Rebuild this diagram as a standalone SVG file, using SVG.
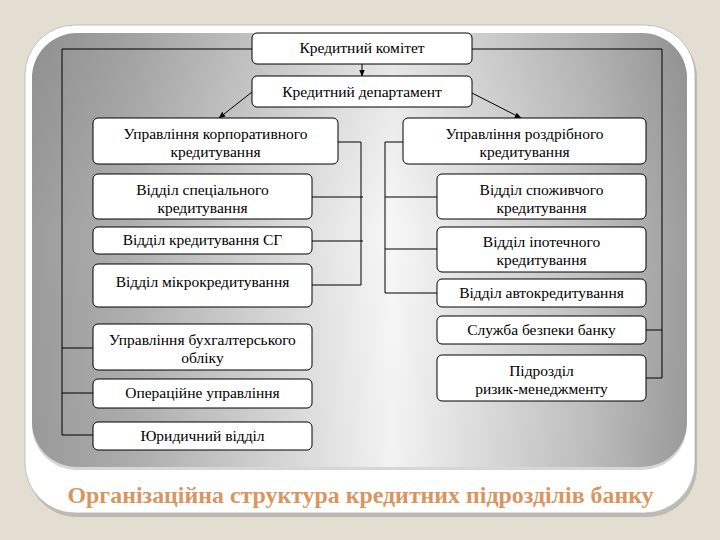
<svg xmlns="http://www.w3.org/2000/svg" width="720" height="540" viewBox="0 0 720 540">
  <defs>
    <linearGradient id="panelH" x1="0" y1="0" x2="1" y2="0">
      <stop offset="0" stop-color="#9c9c9c"/>
      <stop offset="0.15" stop-color="#afafaf"/>
      <stop offset="0.55" stop-color="#f7f7f7"/>
      <stop offset="0.85" stop-color="#c0c0c0"/>
      <stop offset="1" stop-color="#9d9d9d"/>
    </linearGradient>
    <linearGradient id="panelV" x1="0" y1="0" x2="0" y2="1">
      <stop offset="0" stop-color="#000" stop-opacity="0.08"/>
      <stop offset="0.45" stop-color="#000" stop-opacity="0"/>
      <stop offset="1" stop-color="#000" stop-opacity="0.02"/>
    </linearGradient>
    <marker id="arr" viewBox="0 0 10 10" refX="9" refY="5" markerWidth="7" markerHeight="7" orient="auto" markerUnits="userSpaceOnUse">
      <path d="M0,1 L10,5 L0,9 Z" fill="#000"/>
    </marker>
    <style>
      .box { fill: #ffffff; stroke: #000000; stroke-width: 1; }
      .lbl { font-family: "Liberation Serif", "Times New Roman", serif; font-size: 15.5px; fill: #000; text-anchor: middle; }
      .ln { fill: none; stroke: #000; stroke-width: 1; }
      .title { font-family: "Liberation Serif", "Times New Roman", serif; font-size: 23px; font-weight: bold; fill: #d9955f; text-anchor: middle; }
    </style>
  </defs>

  <rect x="0" y="0" width="720" height="540" fill="#e3ddd2"/>
  <!-- white frame -->
  <rect x="27" y="28" width="670" height="489" rx="50" fill="#bdbab2"/>
  <rect x="25" y="25" width="670" height="488" rx="50" fill="#ffffff" stroke="#b4b4b4" stroke-width="0.8"/>
  <!-- gray panel -->
  <rect x="32" y="36" width="655" height="434" rx="45" fill="#d6d6d6"/>
  <rect x="32" y="33" width="655" height="434" rx="45" fill="url(#panelH)"/>
  <rect x="32" y="33" width="655" height="434" rx="45" fill="url(#panelV)"/>

  <text class="title" x="360.5" y="503" textLength="586" lengthAdjust="spacingAndGlyphs">Організаційна структура кредитних підрозділів банку</text>

  <g id="connectors">
    <polyline class="ln" points="252,49 62,49 62,435 93,435"/>
    <line class="ln" x1="62" y1="348" x2="93" y2="348"/>
    <line class="ln" x1="62" y1="393" x2="93" y2="393"/>
    <polyline class="ln" points="472,49 662,49 662,378 646,378"/>
    <line class="ln" x1="662" y1="330" x2="646" y2="330"/>
    <polyline class="ln" points="338,142 361,142 361,285 312,285"/>
    <line class="ln" x1="312" y1="197" x2="363" y2="197"/>
    <line class="ln" x1="312" y1="241" x2="363" y2="241"/>
    <polyline class="ln" points="403,142 385,142 385,293 437,293"/>
    <line class="ln" x1="385" y1="197" x2="437" y2="197"/>
    <line class="ln" x1="385" y1="249" x2="437" y2="249"/>
    <line class="ln" x1="362" y1="64" x2="362" y2="76" marker-end="url(#arr)"/>
    <line class="ln" x1="252" y1="92" x2="219" y2="118" marker-end="url(#arr)"/>
    <line class="ln" x1="472" y1="93" x2="521" y2="118" marker-end="url(#arr)"/>
  </g>

  <g id="n-komitet">
    <rect class="box" x="252" y="33" width="220" height="31" rx="5"/>
    <text class="lbl" x="362" y="53">Кредитний комітет</text>
  </g>
  <g id="n-departament">
    <rect class="box" x="252" y="76" width="220" height="31" rx="5"/>
    <text class="lbl" x="362" y="97">Кредитний департамент</text>
  </g>
  <g id="n-korp">
    <rect class="box" x="93" y="118" width="245" height="46" rx="5"/>
    <text class="lbl" x="215.5" y="139">Управління корпоративного</text>
    <text class="lbl" x="215.5" y="157">кредитування</text>
  </g>
  <g id="n-spec">
    <rect class="box" x="93" y="174" width="219" height="45" rx="5"/>
    <text class="lbl" x="202.5" y="195">Відділ спеціального</text>
    <text class="lbl" x="202.5" y="213">кредитування</text>
  </g>
  <g id="n-sg">
    <rect class="box" x="93" y="227" width="219" height="27" rx="5"/>
    <text class="lbl" x="202.5" y="245">Відділ кредитування СГ</text>
  </g>
  <g id="n-mikro">
    <rect class="box" x="93" y="264" width="219" height="43" rx="5"/>
    <text class="lbl" x="202.5" y="287">Відділ мікрокредитування</text>
  </g>
  <g id="n-buh">
    <rect class="box" x="93" y="324" width="219" height="46" rx="5"/>
    <text class="lbl" x="202.5" y="345">Управління бухгалтерського</text>
    <text class="lbl" x="202.5" y="363">обліку</text>
  </g>
  <g id="n-oper">
    <rect class="box" x="93" y="379" width="219" height="29" rx="5"/>
    <text class="lbl" x="202.5" y="398">Операційне управління</text>
  </g>
  <g id="n-yur">
    <rect class="box" x="93" y="422" width="219" height="28" rx="5"/>
    <text class="lbl" x="202.5" y="441">Юридичний відділ</text>
  </g>
  <g id="n-rozdrib">
    <rect class="box" x="403" y="118" width="243" height="46" rx="5"/>
    <text class="lbl" x="524.5" y="139">Управління роздрібного</text>
    <text class="lbl" x="524.5" y="157">кредитування</text>
  </g>
  <g id="n-spozh">
    <rect class="box" x="437" y="174" width="209" height="45" rx="5"/>
    <text class="lbl" x="541.5" y="195">Відділ споживчого</text>
    <text class="lbl" x="541.5" y="213">кредитування</text>
  </g>
  <g id="n-ipot">
    <rect class="box" x="437" y="227" width="209" height="45" rx="5"/>
    <text class="lbl" x="541.5" y="247">Відділ іпотечного</text>
    <text class="lbl" x="541.5" y="265">кредитування</text>
  </g>
  <g id="n-avto">
    <rect class="box" x="437" y="279" width="209" height="28" rx="5"/>
    <text class="lbl" x="541.5" y="298">Відділ автокредитування</text>
  </g>
  <g id="n-bezpeka">
    <rect class="box" x="437" y="316" width="209" height="28" rx="5"/>
    <text class="lbl" x="541.5" y="335">Служба безпеки банку</text>
  </g>
  <g id="n-ryzyk">
    <rect class="box" x="437" y="355" width="209" height="46" rx="5"/>
    <text class="lbl" x="541.5" y="376">Підрозділ</text>
    <text class="lbl" x="541.5" y="394">ризик-менеджменту</text>
  </g>
</svg>
